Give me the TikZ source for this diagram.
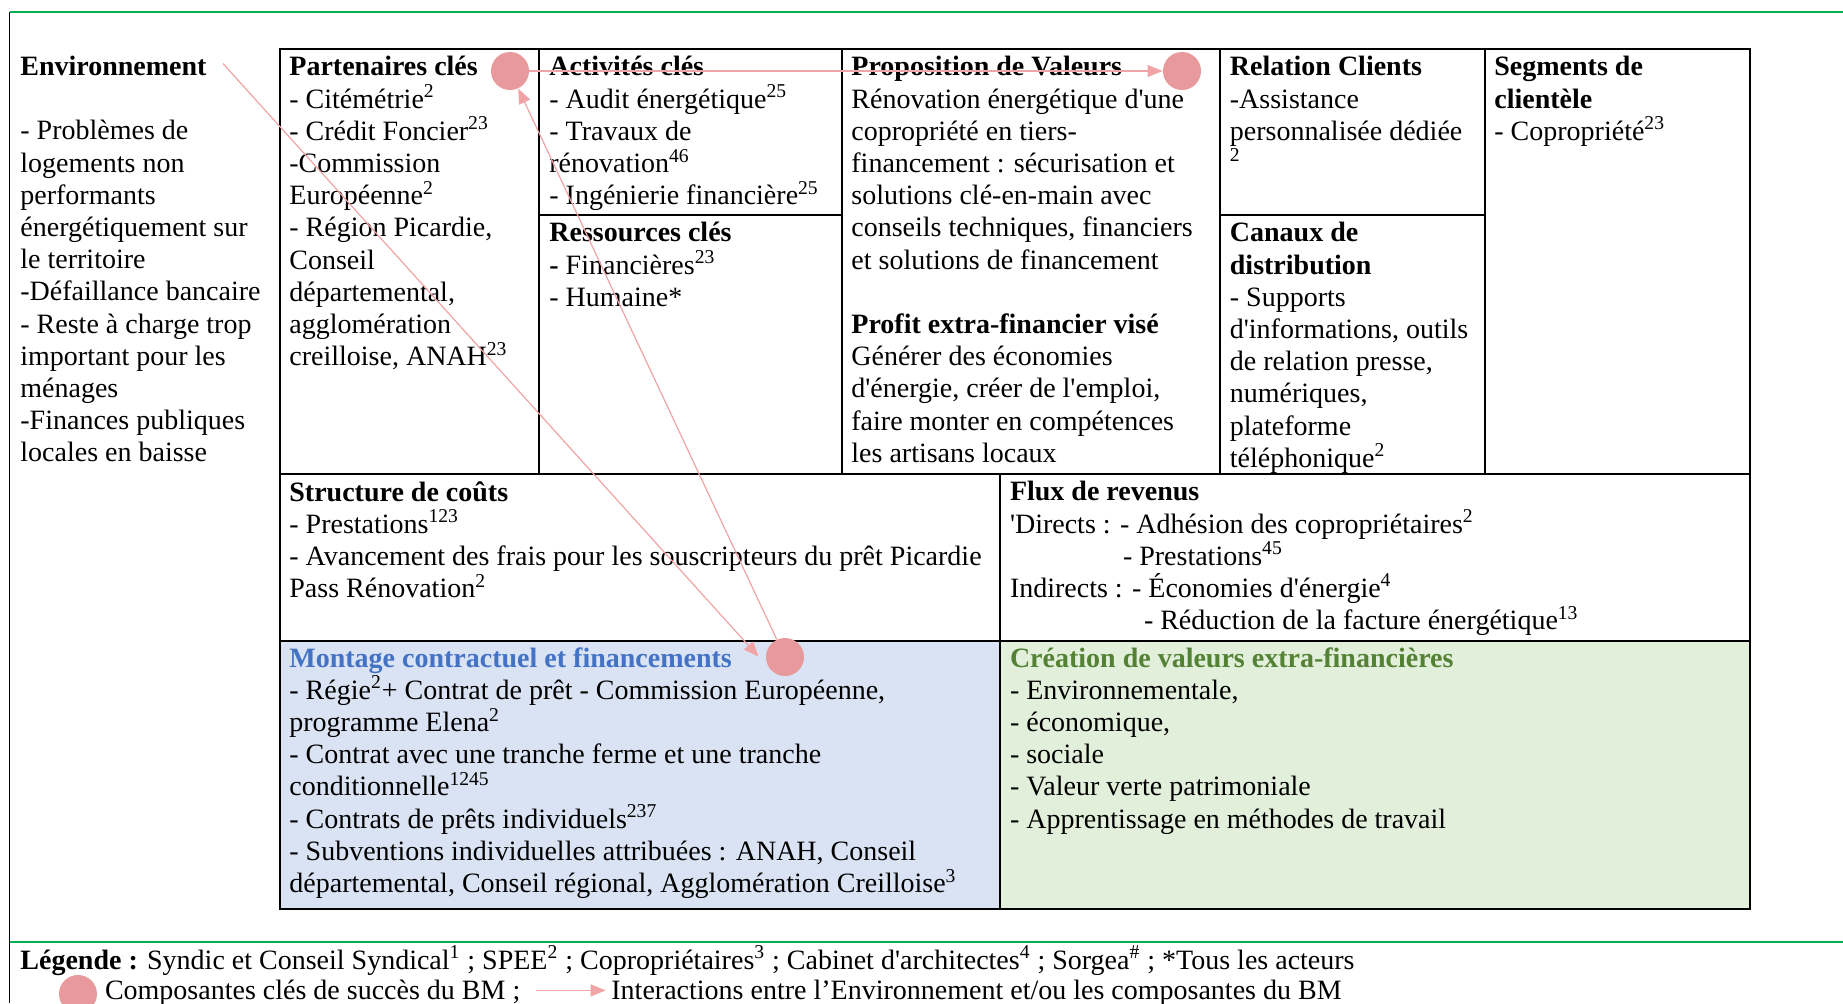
\documentclass[tikz,border=0pt]{standalone}
\usepackage{fontspec}
\setmainfont{Liberation Serif}[Ligatures=TeXOff]
\usetikzlibrary{arrows.meta,positioning}

\definecolor{rulegreen}{HTML}{00B050}
\definecolor{montagefill}{HTML}{DAE3F3}
\definecolor{creationfill}{HTML}{E2EFDA}
\definecolor{montageblue}{HTML}{4472C4}
\definecolor{creationgreen}{HTML}{548235}
\definecolor{keypink}{HTML}{E8999C}
\definecolor{linkpink}{HTML}{F0A4A6}

\newcommand{\actors}[1]{\textsuperscript{#1}}

\begin{document}
\begin{tikzpicture}[
			x=0.5pt, y=-0.5pt,
			txt/.style={anchor=north west, yshift=12pt, inner sep=0pt, align=left, font=\fontsize{14}{16.1}\selectfont, execute at begin node={\rule{0pt}{12pt}}},
			block/.style={txt, yshift=-3pt},
			cellline/.style={draw=black, line width=1pt},
			greenrule/.style={draw=rulegreen, line width=0.85pt},
			kc/.style={circle, fill=keypink, minimum size=19pt, inner sep=0pt},
			link/.style={draw=linkpink, line width=0.6pt, -{Triangle[length=7.5pt,width=6pt]}}
		]
		\useasboundingbox (0,0) rectangle (1843,1003);

		\fill[montagefill] (280,640.6) rectangle (1000,908.6);
		\fill[creationfill] (1000,640.6) rectangle (1750,908.6);

		\draw[greenrule] (9.5,12) -- (1843,12);
		\draw[greenrule] (9.5,942) -- (1843,942);
		\draw[black, line width=0.75pt] (9.5,12) -- (9.5,1003);

		\draw[cellline] (280,49.3) rectangle (1750,908.6);
		\foreach \x in {538.5,841.6,1220,1484.5}
			\draw[cellline] (\x,49.3) -- (\x,473.5);
		\draw[cellline] (538.5,215) -- (841.6,215);
		\draw[cellline] (1220,215) -- (1484.5,215);
		\draw[cellline] (280,473.5) -- (1750,473.5);
		\draw[cellline] (280,640.6) -- (1750,640.6);
		\draw[cellline] (1000,473.5) -- (1000,908.6);

		\node[txt] (envtitle) at (20,75) {\textbf{Environnement}};
		\node[block] (envlist) at (20,138) {- Problèmes de\\logements non\\performants\\énergétiquement sur\\le territoire\\-Défaillance bancaire\\- Reste à charge trop\\important pour les\\ménages\\-Finances publiques\\locales en baisse};

		\node[block] (partners) at (289,74) {\textbf{Partenaires clés}\\- Citémétrie\actors{2}\\- Crédit Foncier\actors{23}\\-Commission\\Européenne\actors{2}\\- Région Picardie,\\Conseil\\départemental,\\agglomération\\creilloise, ANAH\actors{23}};
		\node[block] (activities) at (549,74) {\textbf{Activités clés}\\- Audit énergétique\actors{25}\\- Travaux de\\rénovation\actors{46}\\- Ingénierie financière\actors{25}};
		\node[block] (resources) at (549,240) {\textbf{Ressources clés}\\\textbf{-} Financières\actors{23}\\- Humaine*};
		\node[block] (proposition) at (851,74) {\textbf{Proposition de Valeurs}\\Rénovation énergétique d'une\\copropriété en tiers-\\financement : sécurisation et\\solutions clé-en-main avec\\conseils techniques, financiers\\et solutions de financement\\[16.1pt]\textbf{Profit extra-financier visé}\\Générer des économies\\d'énergie, créer de l'emploi,\\faire monter en compétences\\les artisans locaux};
		\node[block] (relation) at (1229.5,74) {\textbf{Relation Clients}\\-Assistance\\personnalisée dédiée\\\actors{2}};
		\node[block] (channels) at (1229.5,240) {\textbf{Canaux de}\\\textbf{distribution}\\- Supports\\d'informations, outils\\de relation presse,\\numériques,\\plateforme\\téléphonique\actors{2}};
		\node[block] (segments) at (1494,74) {\textbf{Segments de}\\\textbf{clientèle}\\- Copropriété\actors{23}};

		\node[block] (costs) at (289,499) {\textbf{Structure de coûts}\\- Prestations\actors{123}\\- Avancement des frais pour les souscripteurs du prêt Picardie\\Pass Rénovation\actors{2}};
		\node[block] (revenue) at (1009.6,499) {\textbf{Flux de revenus}\\'Directs : - Adhésion des copropriétaires\actors{2}\\\hspace*{56.5pt}- Prestations\actors{45}\\Indirects : - Économies d'énergie\actors{4}\\\hspace*{67pt}- Réduction de la facture énergétique\actors{13}};

		\node[block] (montage) at (289,665) {\textcolor{montageblue}{\textbf{Montage contractuel et financements}}\\- Régie\actors{2}+ Contrat de prêt - Commission Européenne,\\programme Elena\actors{2}\\- Contrat avec une tranche ferme et une tranche\\conditionnelle\actors{1245}\\- Contrats de prêts individuels\actors{237}\\- Subventions individuelles attribuées : ANAH, Conseil\\départemental, Conseil régional, Agglomération Creilloise\actors{3}};
		\node[block] (creation) at (1009.6,665) {\textcolor{creationgreen}{\textbf{Création de valeurs extra-financières}}\\- Environnementale,\\- économique,\\- sociale\\- Valeur verte patrimoniale\\- Apprentissage en méthodes de travail};

		\node[kc] (kc1) at (510,71) {};
		\node[kc] (kc2) at (1182,71) {};
		\node[kc] (kc3) at (785,657) {};

		\coordinate[right=8pt of envtitle.east] (envout);
		\draw[link, shorten >=9.5pt] (envout) -- (kc3.south west);
		\draw[link] (kc3) -- (kc1);
		\draw[link] (kc1) -- (kc2);

		\node[txt] (legend) at (20,969) {\textbf{Légende :} Syndic et Conseil Syndical\actors{1} ; SPEE\actors{2} ; Copropriétaires\actors{3} ; Cabinet d'architectes\actors{4} ; Sorgea\actors{\#} ; *Tous les acteurs};
		\node[kc] (legkc) at (78,994) {};
		\node[txt] (legkctext) at (104.6,999) {Composantes clés de succès du BM ;};
		\coordinate[right=7.5pt of legkctext.east] (legfrom);
		\coordinate[right=35pt of legfrom] (legto);
		\node[txt] (leglinktext) at (611,999) {Interactions entre l’Environnement et/ou les composantes du BM};
		\draw[link] (legfrom) -- (legto);
	\end{tikzpicture}
\end{document}
